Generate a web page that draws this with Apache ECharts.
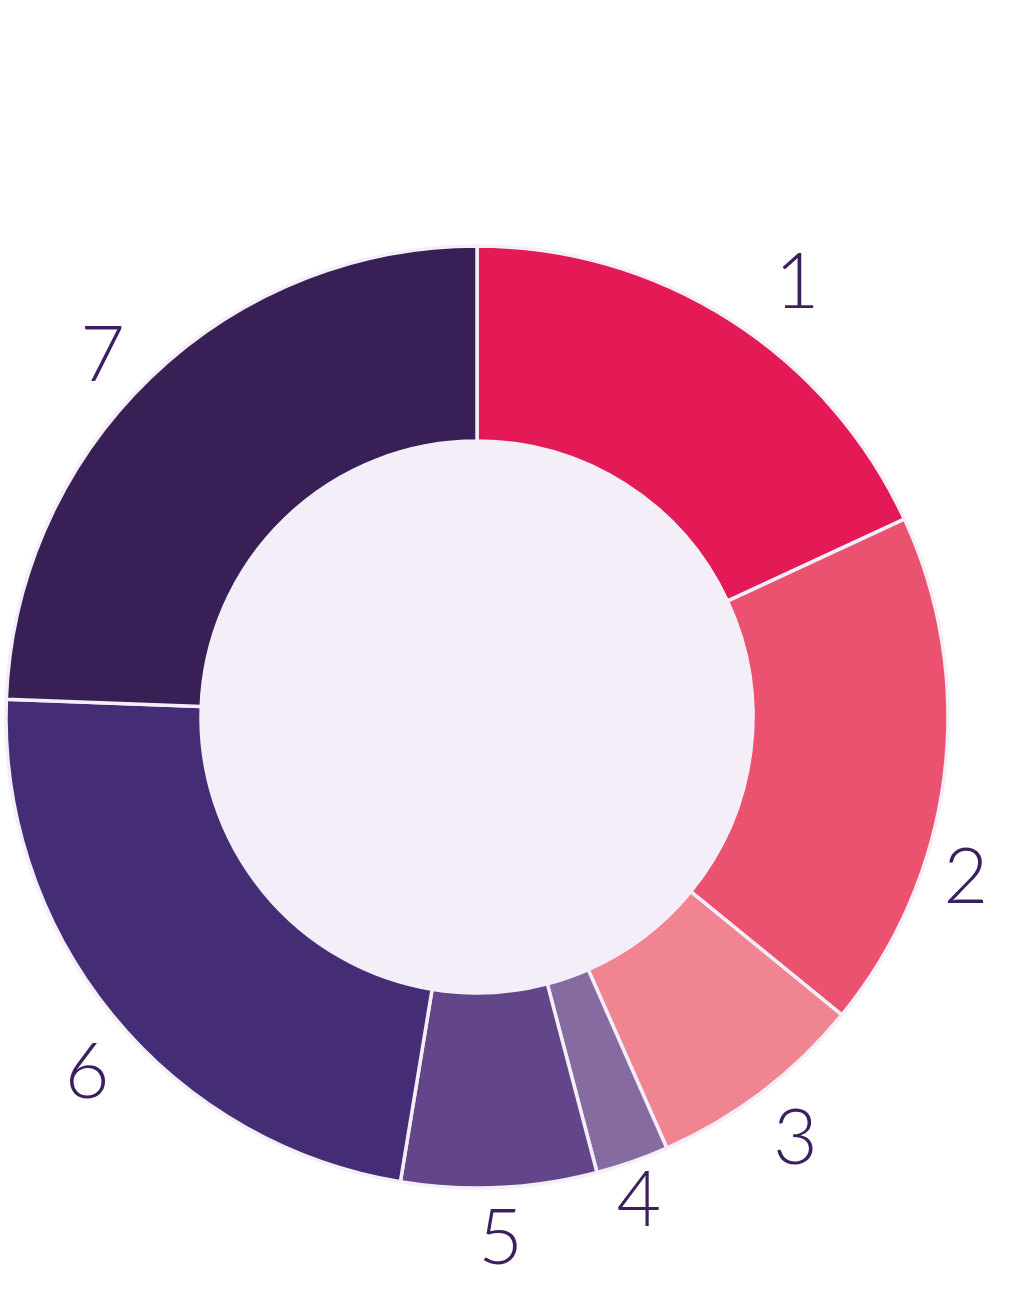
<!DOCTYPE html>
<html>
<head>
<meta charset="utf-8">
<style>
  html, body { margin: 0; padding: 0; background: #ffffff; }
  #chart { width: 1013px; height: 1292px; }
</style>
<script src="https://cdn.jsdelivr.net/npm/echarts@6/dist/echarts.min.js"></script>
</head>
<body>
<div id="chart"></div>
<script>
// Data
var categories = ['1', '2', '3', '4', '5', '6', '7'];
var values = [18.1, 17.8, 7.5, 2.5, 6.7, 23.0, 24.4];
var sliceColors = ['#e31a55', '#ea526f', '#f08490', '#866ba1', '#634689', '#452d75', '#381f56'];

// label nudges (style only)
var labelNudgeX = [38, -31, 1, -11, -1, 16, -11];
var labelNudgeY = [8, 95, 5, -11, -1, 25, 17];

var chart = echarts.init(document.getElementById('chart'));
var option = {
  backgroundColor: '#ffffff',
  animation: false,
  series: [
    {
      type: 'pie',
      silent: true,
      center: [477, 717],
      radius: [0, 277],
      label: { show: false },
      labelLine: { show: false },
      itemStyle: { color: '#f4eef9', borderWidth: 0 },
      data: [{ value: 1, name: 'hole' }],
      z: 1
    },
    {
      type: 'pie',
      center: [477, 717],
      radius: [276, 471],
      startAngle: 90,
      clockwise: true,
      avoidLabelOverlap: false,
      itemStyle: { borderColor: '#f4eef9', borderWidth: 3.5 },
      label: {
        show: true,
        position: 'outside',
        formatter: '{b}',
        fontFamily: 'Lato',
        fontWeight: 300,
        fontSize: 77,
        color: '#3b1f5e',
        distanceToLabelLine: 0
      },
      labelLine: { show: false, length: 53, length2: 0 },
      labelLayout: function (p) {
        return {
          align: 'center',
          verticalAlign: 'middle',
          dx: labelNudgeX[p.dataIndex],
          dy: labelNudgeY[p.dataIndex]
        };
      },
      data: categories.map(function (c, i) {
        return { name: c, value: values[i], itemStyle: { color: sliceColors[i] } };
      }),
      z: 2
    }
  ]
};
chart.setOption(option);
</script>
</body>
</html>
